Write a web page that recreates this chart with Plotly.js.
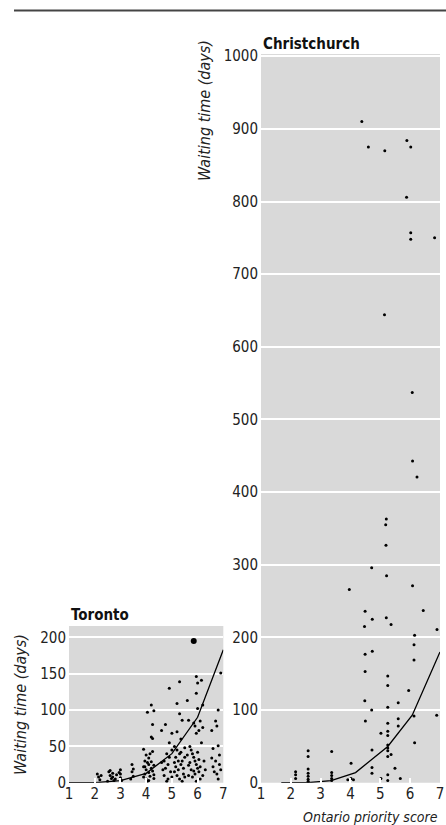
<!DOCTYPE html>
<html>
<head>
<meta charset="utf-8">
<script src="https://cdn.plot.ly/plotly-3.0.1.min.js"></script>
<style>html,body{margin:0;padding:0;background:#fff;}#chart{width:446px;height:825px;}</style>
</head>
<body>
<div id="chart"></div>
<script>
// Toronto scatter
const torontoX = [2.1,2.15,2.2,2.25,
 2.55,2.6,2.65,2.7,2.75,2.6,2.7,2.8,2.85,2.5,
 3.0,3.0,3.0,3.05,2.95,
 3.45,3.45,3.5,3.4,3.5,
 3.9,3.95,3.9,3.95,4.0,3.9,4.0,4.05,4.0,4.1,4.1,4.05,4.1,4.15,4.2,4.2,4.25,4.25,4.3,4.3,4.15,4.05,4.2,4.3,4.25,4.2,4.25,3.95,4.1,4.3,
 4.6,4.75,4.9,4.9,5.0,4.8,4.7,4.75,4.7,4.8,4.85,4.9,4.95,5.0,4.6,4.65,4.85,5.0,
 5.3,5.2,5.3,5.4,5.2,5.35,5.1,5.2,5.3,5.15,5.25,5.35,5.45,5.1,5.2,5.3,5.4,5.5,5.5,5.45,5.15,5.25,5.4,5.5,5.1,5.35,
 5.6,5.65,5.95,6.0,5.95,6.0,5.85,5.9,6.05,5.95,5.7,5.75,5.8,5.85,5.9,5.95,6.0,6.05,5.65,5.7,5.75,5.8,5.9,6.0,6.05,6.1,5.6,5.65,5.85,6.1,5.95,
 6.15,6.2,6.1,6.2,6.15,6.25,6.3,6.2,
 6.55,6.6,6.7,6.75,6.8,6.9,6.8,6.85,6.7,6.6,6.75,6.85,6.55,6.65,6.8,6.9];
const torontoY = [12,8,4,10,
 15,10,6,13,3,17,8,5,11,2,
 18,12,7,3,14,
 25,15,9,5,19,
 46,30,22,12,5,8,38,28,18,34,25,2,14,9,29,20,43,16,6,24,40,97,107,99,80,63,61,22,3,11,
 72,80,130,55,68,40,30,20,10,2,25,35,15,8,28,18,5,45,
 139,109,95,86,70,60,50,45,40,35,30,25,20,15,10,5,2,48,35,12,22,18,30,8,28,42,
 113,86,146,137,123,102,82,78,72,68,50,45,40,35,30,25,20,15,10,28,18,8,12,42,32,22,38,24,16,5,2,
 141,107,85,76,55,30,18,10,
 72,47,85,78,100,151,51,38,30,22,12,25,34,15,5,18];
const torontoOutX = [5.85];
const torontoOutY = [195];
const torontoFitX = [1,2,3,4,5,6,7];
const torontoFitY = [0,0,3,13,40,90,183];

// Christchurch scatter
const chchX = [4.38,4.60,5.15,5.89,6.02,5.88,6.02,6.02,6.82,5.14,
 6.07,6.08,6.23,5.20,5.18,5.19,4.71,5.21,6.08,3.96,
 4.49,4.73,5.20,5.36,4.47,6.44,6.90,6.15,6.13,4.49,4.73,6.13,4.49,5.25,5.25,5.95,4.48,5.60,5.25,4.71,
 6.13,6.89,5.60,4.50,5.25,5.60,5.25,5.02,5.25,6.15,5.25,5.25,4.72,5.25,5.36,5.25,5.49,4.72,4.72,5.25,5.02,5.67,5.25,
 4.02,4.02,4.10,3.91,
 3.37,3.37,3.37,3.37,3.37,
 2.58,2.58,2.58,2.58,2.58,2.58,2.58,
 2.16,2.16,2.16];
const chchY = [910,875,870,884,875,806,757,748,750,644,
 537,443,421,363,355,327,296,285,271,266,
 236,225,227,218,215,237,211,203,190,177,181,169,153,147,134,127,113,110,104,100,
 92,93,88,85,82,78,71,68,65,55,52,48,45,44,39,36,20,21,13,11,6,6,3,
 27,6,4,4,
 43,14,10,6,3,
 44,36,19,13,9,5,2,
 15,11,6];
const chchFitX = [1.68,2.55,3.35,4.17,5.25,6.07,7];
const chchFitY = [0,0,3,14,50,93,180];

const torontoTicks = [0,50,100,150,200];
const chchTicks = [0,100,200,300,400,500,600,700,800,900,1000];
const xTicks = [1,2,3,4,5,6,7];

const FONT = '"Liberation Sans Narrow", "DejaVu Sans Condensed", "Arial Narrow", sans-serif';
const dot = {color:'#000', size:3};

const traces = [
 {x:torontoX, y:torontoY, type:'scatter', mode:'markers', marker:dot, xaxis:'x', yaxis:'y', hoverinfo:'skip'},
 {x:torontoOutX, y:torontoOutY, type:'scatter', mode:'markers', marker:{color:'#000', size:6}, xaxis:'x', yaxis:'y', hoverinfo:'skip'},
 {x:torontoFitX, y:torontoFitY, type:'scatter', mode:'lines', line:{color:'#000', width:1.3}, xaxis:'x', yaxis:'y', hoverinfo:'skip'},
 {x:chchX, y:chchY, type:'scatter', mode:'markers', marker:dot, xaxis:'x2', yaxis:'y2', hoverinfo:'skip'},
 {x:chchFitX, y:chchFitY, type:'scatter', mode:'lines', line:{color:'#000', width:1.3}, xaxis:'x2', yaxis:'y2', hoverinfo:'skip'}
];

const tickFont = {family:FONT, size:15, color:'#222'};
const xax = (dom) => ({domain:dom, range:[1,7], tickvals:xTicks, ticktext:xTicks.map(String),
  ticks:'inside', ticklen:5, tickwidth:2, tickcolor:'#fff', showgrid:false, zeroline:false,
  showline:false, tickfont:tickFont, fixedrange:true, ticklabeloverflow:'allow'});
const yax = (dom, rng, tv, anchor) => ({domain:dom, range:rng, tickvals:tv, ticktext:tv.map(String),
  ticks:'', showgrid:true, gridcolor:'#fff', gridwidth:2, zeroline:false, showline:false,
  tickfont:tickFont, anchor:anchor, fixedrange:true, ticklabelstandoff:2});

const layout = {
 width:446, height:825, margin:{l:0,r:0,t:0,b:0},
 paper_bgcolor:'#fff', plot_bgcolor:'#d9d9d9', showlegend:false,
 font:{family:FONT, color:'#222'},
 xaxis: Object.assign(xax([0.1547,0.5007]), {anchor:'y'}),
 yaxis: yax([0.0512,0.2412],[0,215.5],torontoTicks,'x'),
 xaxis2: Object.assign(xax([0.5852,0.9865]), {anchor:'y2'}),
 yaxis2: yax([0.0512,0.9345],[0,1003],chchTicks,'x2'),
 shapes:[
  {type:'line', xref:'paper', yref:'paper', x0:14/446, x1:1, y0:1-10.5/825, y1:1-10.5/825, line:{color:'#444', width:2}}
 ],
 annotations:[
  {text:'<b>Toronto</b>', xref:'paper', yref:'paper', x:69/446, y:1-615/825, xanchor:'left', yanchor:'middle', showarrow:false, font:{family:FONT, size:15, color:'#111'}},
  {text:'<b>Christchurch</b>', xref:'paper', yref:'paper', x:261/446, y:1-44/825, xanchor:'left', yanchor:'middle', showarrow:false, font:{family:FONT, size:15, color:'#111'}},
  {text:'<i>Waiting time (days)</i>', xref:'paper', yref:'paper', x:20/446, y:1-705/825, xanchor:'center', yanchor:'middle', textangle:-90, showarrow:false, font:{family:FONT, size:16, color:'#222'}},
  {text:'<i>Waiting time (days)</i>', xref:'paper', yref:'paper', x:205/446, y:1-111/825, xanchor:'center', yanchor:'middle', textangle:-90, showarrow:false, font:{family:FONT, size:16, color:'#222'}},
  {text:'<i>Ontario priority score</i>', xref:'paper', yref:'paper', x:440/446, y:1-817/825, xanchor:'right', yanchor:'middle', showarrow:false, font:{family:FONT, size:14, color:'#222'}}
 ]
};

Plotly.newPlot('chart', traces, layout, {staticPlot:true, displayModeBar:false});
</script>
</body>
</html>
